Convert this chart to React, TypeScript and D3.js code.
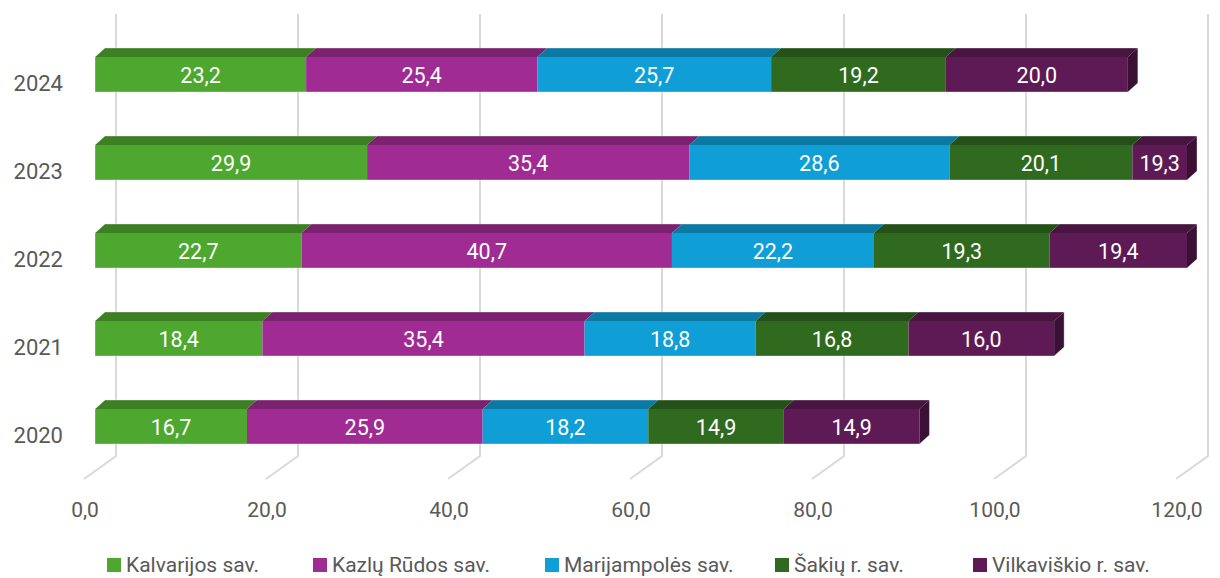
import React, { useEffect, useRef } from 'react';
import * as d3 from 'd3';

const years = ['2024', '2023', '2022', '2021', '2020'];
const seriesNames = ['Kalvarijos sav.', 'Kazlų Rūdos sav.', 'Marijampolės sav.', 'Šakių r. sav.', 'Vilkaviškio r. sav.'];
const colors = ['#4ea72e', '#a02b93', '#0f9ed5', '#2f6a1f', '#5e1a54'];

// values per year, same order as seriesNames
const kalvarijos = [23.2, 29.9, 22.7, 18.4, 16.7];
const kazluRudos = [25.4, 35.4, 40.7, 35.4, 25.9];
const marijampoles = [25.7, 28.6, 22.2, 18.8, 18.2];
const sakiu = [19.2, 20.1, 19.3, 16.8, 14.9];
const vilkaviskio = [20.0, 19.3, 19.4, 16.0, 14.9];

const xTicks = [0, 20, 40, 60, 80, 100, 120];
const legendX = [107, 313, 545, 775, 973];

const fmt = (v: number) => v.toFixed(1).replace('.', ',');

function App() {
  const chartRef = useRef<SVGSVGElement>(null);

  useEffect(() => {
    const svg = d3.select(chartRef.current);
    svg.selectAll('*').remove();

    const font = 'Roboto, "Open Sans", sans-serif';
    const depthX = 10, depthY = 9;   // bar depth
    const wallX = 21;                 // back wall offset
    const barH = 35;
    const xMax = 120;

    const x = d3.scaleLinear().domain([0, xMax]).range([95, 1187]);
    const y = d3.scalePoint<string>().domain(years).range([57, 409]);

    const all = [kalvarijos, kazluRudos, marijampoles, sakiu, vilkaviskio];

    // back wall gridlines + floor
    const grid = svg.append('g');
    xTicks.forEach(t => {
      const bx = x(t) + wallX;
      grid.append('path')
        .attr('d', `M${bx},14 L${bx},456 L${x(t) - 11},479`)
        .attr('fill', 'none')
        .attr('stroke', '#d9d9d9')
        .attr('stroke-width', 2);
      grid.append('text')
        .attr('x', x(t) - 10)
        .attr('y', 517)
        .attr('text-anchor', 'middle')
        .attr('font-family', font)
        .attr('font-size', 21)
        .attr('fill', '#595959')
        .text(fmt(t));
    });

    // bars
    years.forEach((yr, i) => {
      const top = y(yr) as number;
      const g = svg.append('g');
      let acc = 0;
      const segs: { x0: number; x1: number; v: number; c: string }[] = [];
      all.forEach((s, k) => {
        const v = s[i];
        const a = Math.min(acc, xMax), b = Math.min(acc + v, xMax);
        if (b > a) segs.push({ x0: x(a), x1: x(b), v, c: colors[k] });
        acc += v;
      });

      segs.forEach(s => {
        const c = d3.color(s.c)!;
        g.append('path')
          .attr('d', `M${s.x0},${top} L${s.x0 + depthX},${top - depthY} L${s.x1 + depthX},${top - depthY} L${s.x1},${top} Z`)
          .attr('fill', c.darker(0.75).toString());
        g.append('rect')
          .attr('x', s.x0)
          .attr('y', top)
          .attr('width', s.x1 - s.x0)
          .attr('height', barH)
          .attr('fill', s.c);
      });

      const last = segs[segs.length - 1];
      g.append('path')
        .attr('d', `M${last.x1},${top} L${last.x1 + depthX},${top - depthY} L${last.x1 + depthX},${top - depthY + barH} L${last.x1},${top + barH} Z`)
        .attr('fill', d3.color(last.c)!.darker(1.3).toString());

      // light outline of the bar
      const x0 = segs[0].x0;
      g.append('path')
        .attr('d', `M${x0},${top + barH} L${x0},${top} L${x0 + depthX},${top - depthY} L${last.x1 + depthX},${top - depthY} L${last.x1 + depthX},${top - depthY + barH} L${last.x1},${top + barH} Z`)
        .attr('fill', 'none')
        .attr('stroke', '#ffffff')
        .attr('stroke-opacity', 0.35)
        .attr('stroke-width', 1);

      segs.forEach(s => {
        g.append('text')
          .attr('x', (s.x0 + s.x1) / 2)
          .attr('y', top + barH / 2 + 8)
          .attr('text-anchor', 'middle')
          .attr('font-family', font)
          .attr('font-size', 21.5)
          .attr('fill', '#ffffff')
          .text(fmt(s.v));
      });

      svg.append('text')
        .attr('x', 63)
        .attr('y', top + barH - 1)
        .attr('text-anchor', 'end')
        .attr('font-family', font)
        .attr('font-size', 22)
        .attr('fill', '#595959')
        .text(yr);
    });

    // legend
    const legend = svg.append('g');
    seriesNames.forEach((name, k) => {
      legend.append('rect')
        .attr('x', legendX[k])
        .attr('y', 558)
        .attr('width', 14)
        .attr('height', 14)
        .attr('fill', colors[k]);
      legend.append('text')
        .attr('x', legendX[k] + 19)
        .attr('y', 572)
        .attr('font-family', font)
        .attr('font-size', 21)
        .attr('fill', '#595959')
        .text(name);
    });
  }, []);

  return (
    <svg ref={chartRef} width="1220" height="578" style={{ position: 'absolute', left: 0, top: 0 }}></svg>
  );
}

export default App;
